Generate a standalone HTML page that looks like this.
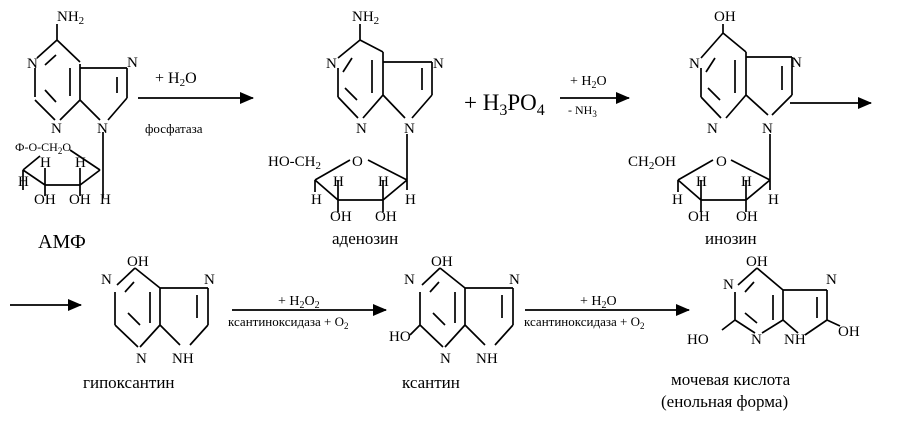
<!DOCTYPE html>
<html><head><meta charset="utf-8"><style>
html,body{margin:0;padding:0;background:#fff}
svg{display:block}
text{font-family:"Liberation Serif",serif;fill:#000}
</style></head><body>
<svg width="910" height="421" viewBox="0 0 910 421" xmlns="http://www.w3.org/2000/svg">
<defs><marker id="a" markerWidth="14" markerHeight="12" refX="13" refY="6" orient="auto" markerUnits="userSpaceOnUse"><path d="M0,0 L14,6 L0,12 Z" fill="#000"/></marker></defs>
<g stroke="#000" stroke-width="1.7" fill="none">
<path d="M57,24 V40 M57,40 L80,62 M57,40 L37,58 M35,68 V97 M35,100 L55,120 M80,64 V100 M80,100 L60,120 M80,68 H127 M127,68 V98 M127,98 L108,120 M80,100 L100,120"/>
<path d="M45,65 L56,55 M70,68 V96 M45,90 L56,102 M117,77 V93"/>
<path d="M103,132 V198 M23,170 L45,185 H80 L100,170 M23,170 L23,190 M45,185 V168 M80,185 V168 M100,170 L70,150 M23,170 L40,156 M45,185 V196 M80,185 V196"/>
<path d="M138,98 H253" marker-end="url(#a)"/>
<path d="M360,24 V40 M360,40 L383,52 M360,40 L338,58 M338,68 V97 M338,97 L358,118 M383,52 V95 M383,95 L363,118 M383,62 H432 M432,62 V95 M432,95 L412,118 M383,95 L405,118"/>
<path d="M343,72 L352,58 M372,60 V93 M345,88 L357,100 M422,68 V90"/>
<path d="M407,134 V180 M315,180 L338,200 H383 L407,180 M315,180 L350,160 M368,160 L407,180 M315,180 V192 M338,200 V180 M383,200 V180 M407,180 V190 M338,200 V212 M383,200 V212"/>
<path d="M560,98 H629" marker-end="url(#a)"/>
<path d="M723,24 V33 M723,33 L746,52 M723,33 L701,58 M701,68 V97 M701,97 L721,118 M746,52 V95 M746,95 L726,118 M746,57 H792 M792,57 V95 M792,95 L772,115 M746,95 L768,115"/>
<path d="M706,72 L715,58 M735,60 V93 M708,88 L720,100 M782,66 V90"/>
<path d="M770,134 V180 M678,180 L713,160 M731,160 L770,180 M678,180 L701,200 H746 L770,180 M678,180 V192 M701,200 V180 M746,200 V180 M770,180 V190 M701,200 V212 M746,200 V212"/>
<path d="M790,103 H871" marker-end="url(#a)"/>
<path d="M10,305 H81" marker-end="url(#a)"/>
<path d="M135,268 L160,288 M135,268 L117,285 M115,292 V325 M115,325 L138,347 M160,288 V325 M160,325 L140,347 M160,288 H208 M208,288 V325 M208,325 L190,345 M160,325 L180,345"/>
<path d="M125,292 L134,282 M150,292 V323 M128,313 L140,325 M197,295 V318"/>
<path d="M232,310 H386" marker-end="url(#a)"/>
<path d="M440,268 L465,288 M440,268 L422,285 M420,292 V325 M420,325 L443,347 M465,288 V325 M465,325 L445,347 M465,288 H513 M513,288 V325 M513,325 L495,345 M465,325 L485,345 M410,335 L420,325"/>
<path d="M430,292 L439,282 M455,292 V323 M433,313 L445,325 M502,295 V318"/>
<path d="M525,310 H689" marker-end="url(#a)"/>
<path d="M757,268 L783,290 M757,268 L738,285 M735,292 V320 M735,320 L755,333 M783,290 V320 M783,320 L762,333 M783,290 H827 M827,290 V320 M827,320 L805,335 M783,320 L798,333 M722,330 L735,320 M827,320 L840,326"/>
<path d="M745,292 L754,282 M773,295 V320 M745,313 L757,323 M817,297 V318"/>
</g>
<g font-size="15">
<text x="57" y="21">NH<tspan font-size="11" dy="3">2</tspan></text>
<text x="27" y="68">N</text><text x="51" y="133">N</text><text x="127" y="67">N</text><text x="97" y="133">N</text>
<text x="155" y="83" font-size="16">+ H<tspan font-size="11" dy="3">2</tspan><tspan dy="-3">O</tspan></text>
<text x="145" y="133" font-size="13">фосфатаза</text>
<text x="15" y="151" font-size="12">Ф-O-CH<tspan font-size="9" dy="3">2</tspan><tspan dy="-3">O</tspan></text>
<text x="40" y="167">H</text><text x="75" y="167">H</text><text x="18" y="186">H</text>
<text x="34" y="204">OH</text><text x="69" y="204">OH</text><text x="100" y="204">H</text>
<text x="38" y="248" font-size="20">АМФ</text>

<text x="352" y="21">NH<tspan font-size="11" dy="3">2</tspan></text>
<text x="326" y="68">N</text><text x="356" y="133">N</text><text x="433" y="68">N</text><text x="404" y="133">N</text>
<text x="268" y="166">HO-CH<tspan font-size="11" dy="3">2</tspan></text>
<text x="352" y="166">O</text>
<text x="333" y="186">H</text><text x="378" y="186">H</text><text x="311" y="204">H</text><text x="405" y="204">H</text>
<text x="330" y="221">OH</text><text x="375" y="221">OH</text>
<text x="332" y="244" font-size="17">аденозин</text>
<text x="464" y="110" font-size="23">+ H<tspan font-size="16" dy="5">3</tspan><tspan dy="-5">PO</tspan><tspan font-size="16" dy="5">4</tspan></text>
<text x="570" y="85" font-size="14">+ H<tspan font-size="10" dy="3">2</tspan><tspan dy="-3">O</tspan></text>
<text x="568" y="114" font-size="12">- NH<tspan font-size="9" dy="3">3</tspan></text>

<text x="714" y="21">OH</text>
<text x="689" y="68">N</text><text x="707" y="133">N</text><text x="791" y="67">N</text><text x="762" y="133">N</text>
<text x="628" y="166">CH<tspan font-size="11" dy="3">2</tspan><tspan dy="-3">OH</tspan></text>
<text x="716" y="166">O</text>
<text x="696" y="186">H</text><text x="741" y="186">H</text><text x="672" y="204">H</text><text x="768" y="204">H</text>
<text x="688" y="221">OH</text><text x="736" y="221">OH</text>
<text x="705" y="244" font-size="17">инозин</text>

<text x="127" y="266">OH</text><text x="101" y="284">N</text><text x="204" y="284">N</text>
<text x="136" y="363">N</text><text x="172" y="363">NH</text>
<text x="83" y="388" font-size="17">гипоксантин</text>
<text x="278" y="305" font-size="14">+ H<tspan font-size="10" dy="3">2</tspan><tspan dy="-3">O</tspan><tspan font-size="10" dy="3">2</tspan></text>
<text x="228" y="326" font-size="13">ксантиноксидаза + O<tspan font-size="9" dy="3">2</tspan></text>

<text x="431" y="266">OH</text><text x="404" y="284">N</text><text x="389" y="341">HO</text>
<text x="440" y="363">N</text><text x="476" y="363">NH</text><text x="509" y="284">N</text>
<text x="402" y="388" font-size="17">ксантин</text>
<text x="580" y="305" font-size="14">+ H<tspan font-size="10" dy="3">2</tspan><tspan dy="-3">O</tspan></text>
<text x="524" y="326" font-size="13">ксантиноксидаза + O<tspan font-size="9" dy="3">2</tspan></text>

<text x="746" y="266">OH</text><text x="723" y="289">N</text><text x="687" y="344">HO</text>
<text x="751" y="344">N</text><text x="784" y="344">NH</text><text x="826" y="284">N</text><text x="838" y="336">OH</text>
<text x="671" y="385" font-size="17">мочевая кислота</text>
<text x="661" y="407" font-size="17">(енольная форма)</text>
</g>
</svg>
</body></html>
